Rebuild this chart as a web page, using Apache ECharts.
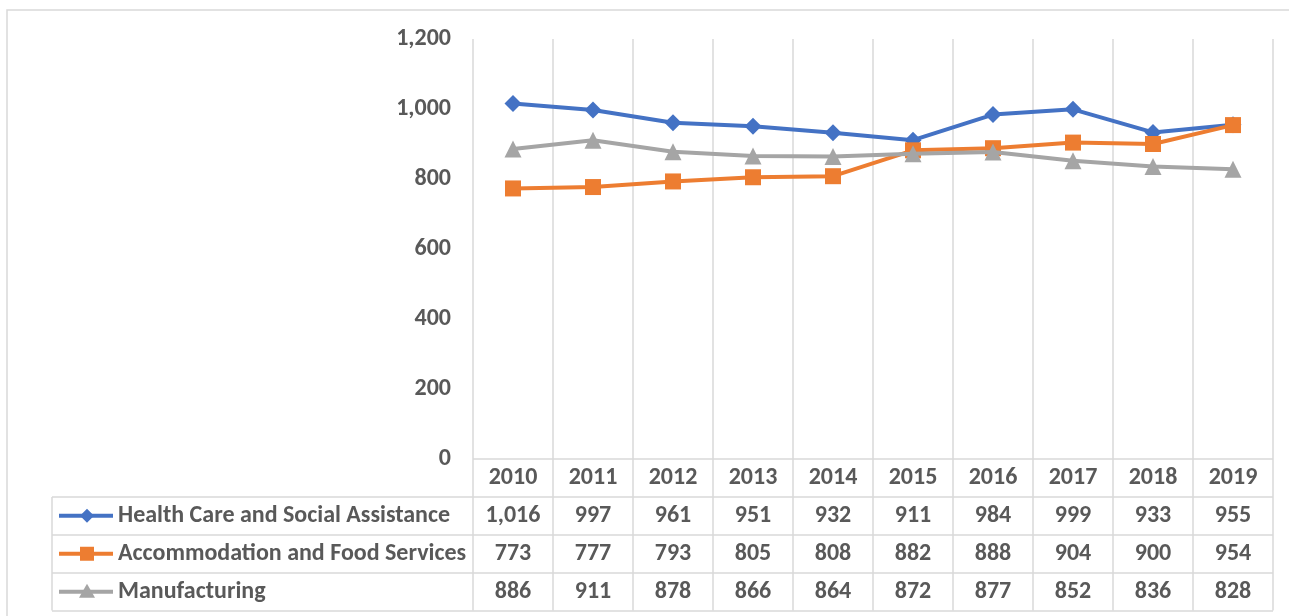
<!DOCTYPE html>
<html><head><meta charset="utf-8">
<script src="https://cdn.jsdelivr.net/npm/echarts@6/dist/echarts.min.js"></script>
<style>html,body{margin:0;padding:0;background:#fff}#c{width:1289px;height:616px}</style>
</head><body><div id="c"></div>
<script>
var years = ['2010','2011','2012','2013','2014','2015','2016','2017','2018','2019'];
var seriesNames = ['Health Care and Social Assistance','Accommodation and Food Services','Manufacturing'];
var health = [1016, 997, 961, 951, 932, 911, 984, 999, 933, 955];
var accommodation = [773, 777, 793, 805, 808, 882, 888, 904, 900, 954];
var manufacturing = [886, 911, 878, 866, 864, 872, 877, 852, 836, 828];
var yTicks = [0, 200, 400, 600, 800, 1000, 1200];

var colors = ['#4472C4', '#ED7D31', '#A5A5A5'];
var symbols = ['diamond', 'rect', 'triangle'];
var symSizes = [17, 16, 17];
var dataSets = [health, accommodation, manufacturing];
var FONT = 'Carlito, Calibri, Lato, sans-serif';
var FS = 24;
var TXT = '#595959';
var GRID = '#D9D9D9';

var chart = echarts.init(document.getElementById('c'));
var gridL = 473, gridR = 16, gridT = 39, gridB = 157;
chart.setOption({
  animation: false,
  textStyle: {fontFamily: FONT},
  grid: {left: gridL, right: gridR, top: gridT, bottom: gridB, containLabel: false},
  xAxis: {
    type: 'category', data: years, boundaryGap: true,
    axisLine: {show: false}, axisTick: {show: false},
    axisLabel: {show: true, margin: 7, color: TXT, fontFamily: FONT, fontWeight: 'bold', fontSize: FS},
    splitLine: {show: true, lineStyle: {color: GRID, width: 1.5}}
  },
  yAxis: {
    type: 'value', min: yTicks[0], max: yTicks[yTicks.length-1], interval: 200,
    axisLine: {show: false}, axisTick: {show: false}, splitLine: {show: false},
    axisLabel: {margin: 22, color: TXT, fontFamily: FONT, fontWeight: 'bold', fontSize: FS,
      formatter: function(v){ return v.toLocaleString('en-US'); }}
  },
  series: dataSets.map(function(d, i){
    return {
      name: seriesNames[i], type: 'line', data: d,
      symbol: symbols[i], symbolSize: symSizes[i], showSymbol: true,
      itemStyle: {color: colors[i]},
      lineStyle: {color: colors[i], width: 4},
      z: 2 + i
    };
  })
});

// Data table below the plot, positioned from the axis scale
(function(){
  var g = [];
  var x0 = chart.convertToPixel({xAxisIndex: 0}, years[0]);
  var x1 = chart.convertToPixel({xAxisIndex: 0}, years[1]);
  var band = x1 - x0;
  var yBase = chart.convertToPixel({yAxisIndex: 0}, 0);
  var rowH = 37.9;
  var tableLeft = 52;
  var leftEdge = x0 - band/2;
  var rightEdge = leftEdge + band * years.length;
  var lineStyle = {stroke: GRID, lineWidth: 1.5};
  var font = 'bold ' + FS + 'px ' + FONT;
  // outer border
  g.push({type: 'rect', shape: {x: 7, y: 10, width: 1300, height: 640}, style: {fill: null, stroke: GRID, lineWidth: 1.5}, silent: true, z: 0});
  // vertical lines below plot
  for (var k = 0; k <= years.length; k++) {
    var xx = Math.round(leftEdge + band * k);
    g.push({type: 'line', shape: {x1: xx, y1: yBase, x2: xx, y2: yBase + rowH * 4}, style: lineStyle, silent: true});
  }
  g.push({type: 'line', shape: {x1: tableLeft, y1: yBase + rowH, x2: tableLeft, y2: yBase + rowH * 4}, style: lineStyle, silent: true});
  // horizontal lines
  g.push({type: 'line', shape: {x1: leftEdge, y1: yBase, x2: rightEdge, y2: yBase}, style: lineStyle, silent: true});
  for (var r = 1; r <= 4; r++) {
    var yy = Math.round(yBase + rowH * r);
    g.push({type: 'line', shape: {x1: tableLeft, y1: yy, x2: rightEdge, y2: yy}, style: lineStyle, silent: true});
  }
  // rows
  for (var s = 0; s < dataSets.length; s++) {
    var cy = yBase + rowH * (s + 1) + rowH / 2;
    g.push({type: 'line', shape: {x1: 59, y1: cy, x2: 113, y2: cy}, style: {stroke: colors[s], lineWidth: 4}, silent: true});
    if (symbols[s] === 'diamond') {
      g.push({type: 'polygon', shape: {points: [[87, cy-7], [94, cy], [87, cy+7], [80, cy]]}, style: {fill: colors[s]}, silent: true});
    } else if (symbols[s] === 'rect') {
      g.push({type: 'rect', shape: {x: 80, y: cy-7, width: 14, height: 14}, style: {fill: colors[s]}, silent: true});
    } else {
      g.push({type: 'polygon', shape: {points: [[87, cy-8], [95, cy+6], [79, cy+6]]}, style: {fill: colors[s]}, silent: true});
    }
    g.push({type: 'text', x: 118, y: cy, style: {text: seriesNames[s], fill: TXT, font: font, textVerticalAlign: 'middle', textAlign: 'left'}, silent: true});
    for (var c = 0; c < years.length; c++) {
      var cx = chart.convertToPixel({xAxisIndex: 0}, years[c]);
      g.push({type: 'text', x: cx, y: cy, style: {text: dataSets[s][c].toLocaleString('en-US'), fill: TXT, font: font, textVerticalAlign: 'middle', textAlign: 'center'}, silent: true});
    }
  }
  chart.setOption({graphic: g});
})();
</script>
</body></html>
